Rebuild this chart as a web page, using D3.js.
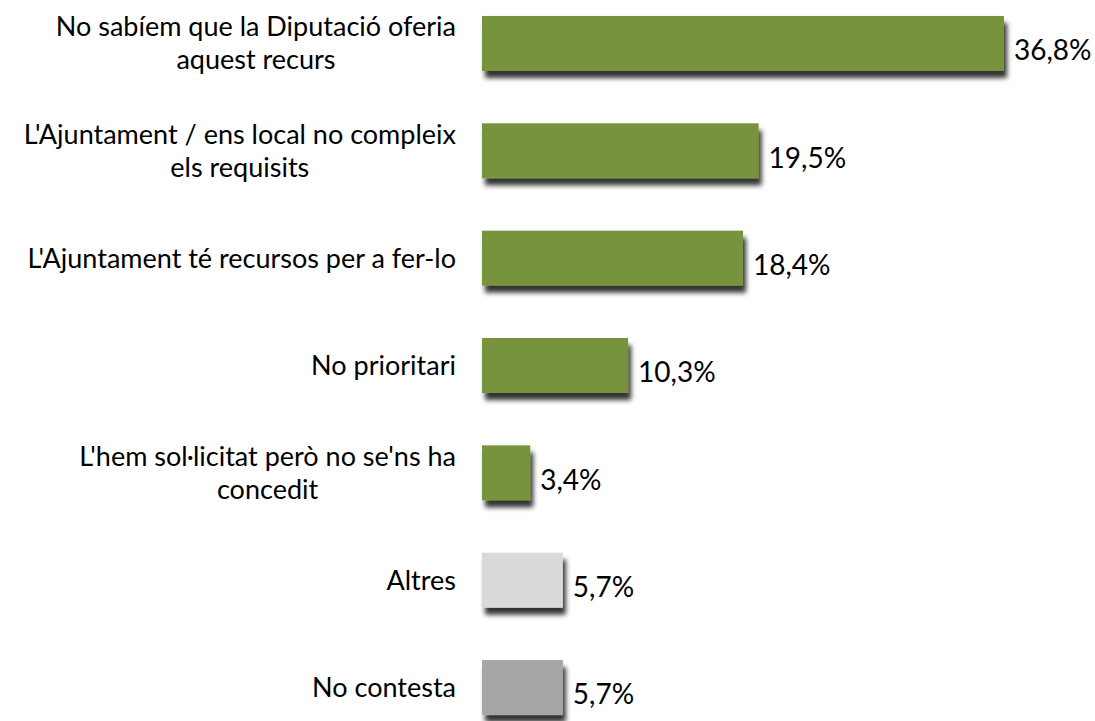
<!DOCTYPE html>
<html>
<head>
<meta charset="utf-8">
<script src="https://cdn.jsdelivr.net/npm/d3@7"></script>
<style>
  body { margin: 0; background: #fff; }
  svg { display: block; }
  text { font-family: Lato, "Open Sans", sans-serif; fill: #000; }
</style>
</head>
<body>
<div id="chart"></div>
<script>
// chart data
const categories = [
    ["No sabíem que la Diputació oferia", "aquest recurs"],
    ["L'Ajuntament / ens local no compleix", "els requisits"],
    ["L'Ajuntament té recursos per a fer-lo"],
    ["No prioritari"],
    ["L'hem sol·licitat però no se'ns ha", "concedit"],
    ["Altres"],
    ["No contesta"]
];
const values = [36.8, 19.5, 18.4, 10.3, 3.4, 5.7, 5.7];
const barColors = ["#77933c", "#77933c", "#77933c", "#77933c", "#77933c", "#d9d9d9", "#a6a6a6"];

const width = 1095, height = 721;
const barLeft = 482;
const labelRight = 456;

const svg = d3.select("#chart").append("svg")
    .attr("width", width)
    .attr("height", height);

// drop shadow under every bar
const defs = svg.append("defs");
defs.append("filter")
    .attr("id", "shadow")
    .attr("x", "-10%").attr("y", "-20%")
    .attr("width", "130%").attr("height", "160%")
    .append("feDropShadow")
    .attr("dx", 3)
    .attr("dy", 7)
    .attr("stdDeviation", 2.6)
    .attr("flood-color", "#000")
    .attr("flood-opacity", 0.8);

const x = d3.scaleLinear()
    .domain([0, 36.8])
    .range([barLeft, 1004]);

const y = d3.scaleBand()
    .domain(d3.range(values.length))
    .range([-10.2, 741.2])
    .paddingInner(0.4875)
    .paddingOuter(0.24375);

const rows = svg.append("g").selectAll("g")
    .data(values)
    .enter().append("g");

rows.append("rect")
    .attr("x", x(0))
    .attr("y", (d, i) => y(i))
    .attr("width", d => x(d) - x(0))
    .attr("height", y.bandwidth())
    .attr("fill", (d, i) => barColors[i])
    .attr("filter", "url(#shadow)");

rows.append("text")
    .attr("x", d => x(d) + 10)
    .attr("y", (d, i) => y(i) + y.bandwidth() / 2 + 7)
    .attr("dy", "0.35em")
    .style("font-size", "28px")
    .text(d => d.toFixed(1).replace(".", ",") + "%");

// category labels, wrapped ones centred on their longest line
const lineH = 33;
const labels = svg.append("g").selectAll("text")
    .data(categories)
    .enter().append("text")
    .style("font-size", "27px")
    .attr("y", (d, i) => y(i) + y.bandwidth() / 2);

labels.each(function (lines, i) {
    const t = d3.select(this);
    const cy = y(i) + y.bandwidth() / 2;
    const spans = t.selectAll("tspan")
        .data(lines)
        .enter().append("tspan")
        .attr("y", (l, j) => cy + (j - (lines.length - 1) / 2) * lineH)
        .attr("dy", "0.35em")
        .text(l => l);
    if (lines.length === 1) {
        t.attr("text-anchor", "end");
        spans.attr("x", labelRight);
    } else {
        let maxW = 0;
        spans.each(function () { maxW = Math.max(maxW, this.getComputedTextLength()); });
        t.attr("text-anchor", "middle");
        spans.attr("x", labelRight - maxW / 2);
    }
});
</script>
</body>
</html>
